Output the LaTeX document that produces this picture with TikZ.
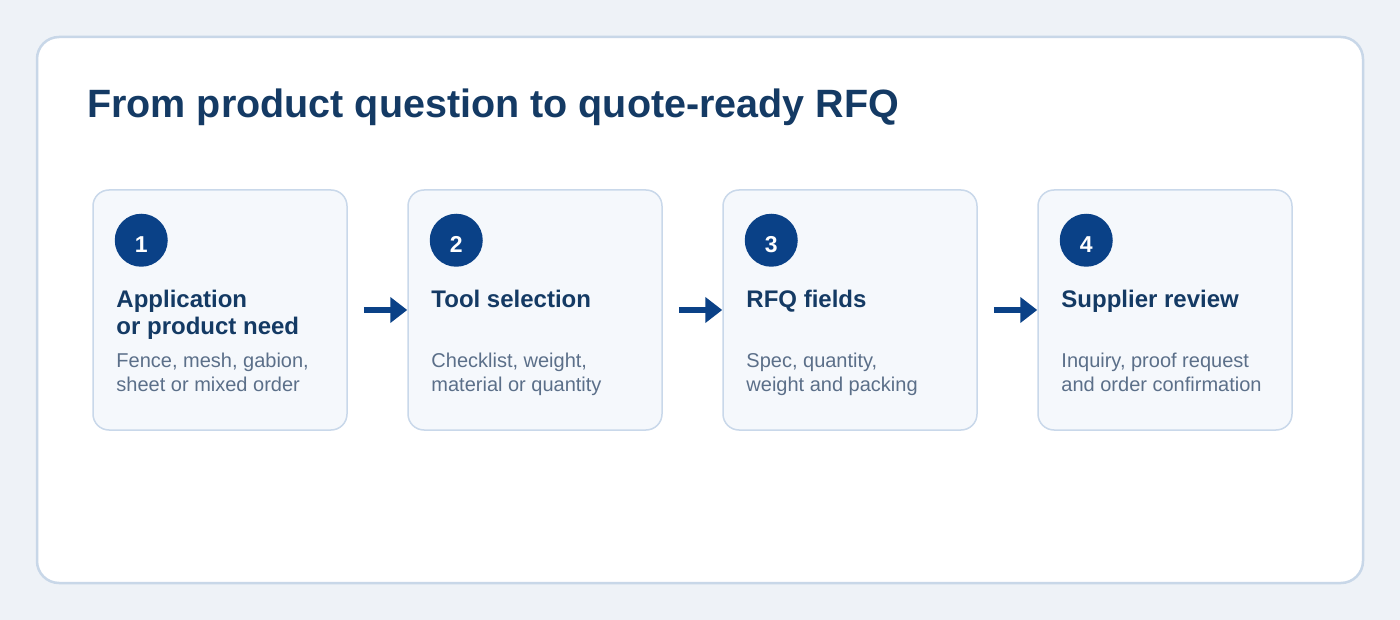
\documentclass[tikz,border=0pt]{standalone}
\usepackage{fontspec}
\setmainfont{Liberation Sans}
\usetikzlibrary{arrows.meta,positioning}

\definecolor{pagebg}{HTML}{EEF2F7}
\definecolor{panelline}{HTML}{C8D7E8}
\definecolor{cardfill}{HTML}{F5F8FC}
\definecolor{cardline}{HTML}{C9D8EA}
\definecolor{navy}{HTML}{0A4187}
\definecolor{titleblue}{HTML}{143A64}
\definecolor{notegray}{HTML}{5B6F89}

\tikzset{
	stepcard/.style={draw=cardline, fill=cardfill, line width=1.5pt, rounded corners=16pt,
		minimum width=254pt, minimum height=240pt, inner sep=0pt},
	stepnum/.style={circle, fill=navy, text=white, minimum size=53pt, inner sep=0pt,
		text height=24pt, text depth=0pt, font=\fontsize{23}{24}\selectfont\bfseries},
	steptitle/.style={anchor=base west, inner sep=0pt, align=left, text=titleblue,
		font=\fontsize{24}{27}\selectfont\bfseries},
	stepnote/.style={anchor=base west, inner sep=0pt, align=left, text=notegray,
		font=\fontsize{20}{24}\selectfont},
	flow/.style={navy, line width=5.5pt, -{Triangle[length=17pt,width=25pt]}}
}

\begin{document}
\begin{tikzpicture}[x=1pt, y=-1pt]
		% page and panel
		\fill[pagebg] (0,0) rectangle (1400,620);
		\useasboundingbox (0,0) rectangle (1400,620);
		\draw[panelline, fill=white, line width=2.5pt, rounded corners=22pt] (37,37) rectangle (1363,583);
		
		% heading
		\node[anchor=base west, inner sep=0pt, text=titleblue, font=\fontsize{39.5}{44}\selectfont\bfseries]
		(title) at (87,118) {From product question to quote-ready RFQ};
		
		% the four steps
		\node[stepcard] (c1) at (220,310) {};
		\node[stepcard] (c2) [right=59.5pt of c1] {};
		\node[stepcard] (c3) [right=59.5pt of c2] {};
		\node[stepcard] (c4) [right=59.5pt of c3] {};
		
		% numbers
		\node[stepnum] (n1) at ([xshift=49pt,yshift=-51pt]c1.north west) {1};
		\node[stepnum] (n2) at ([xshift=49pt,yshift=-51pt]c2.north west) {2};
		\node[stepnum] (n3) at ([xshift=49pt,yshift=-51pt]c3.north west) {3};
		\node[stepnum] (n4) at ([xshift=49pt,yshift=-51pt]c4.north west) {4};
		
		% step titles (base = last line)
		\node[steptitle] (t1) at ([xshift=24pt,yshift=-145pt]c1.north west) {Application\\or product need};
		\node[steptitle] (t2) at ([xshift=24pt,yshift=-118pt]c2.north west) {Tool selection};
		\node[steptitle] (t3) at ([xshift=24pt,yshift=-118pt]c3.north west) {RFQ fields};
		\node[steptitle] (t4) at ([xshift=24pt,yshift=-118pt]c4.north west) {Supplier review};
		
		% step notes
		\node[stepnote] (d1) at ([xshift=24pt,yshift=-202pt]c1.north west) {Fence, mesh, gabion,\\sheet or mixed order};
		\node[stepnote] (d2) at ([xshift=24pt,yshift=-202pt]c2.north west) {Checklist, weight,\\material or quantity};
		\node[stepnote] (d3) at ([xshift=24pt,yshift=-202pt]c3.north west) {Spec, quantity,\\weight and packing};
		\node[stepnote] (d4) at ([xshift=24pt,yshift=-202pt]c4.north west) {Inquiry, proof request\\and order confirmation};
		
		% flow arrows
		\draw[flow] ([xshift=16pt]c1.east) -- (c2.west);
		\draw[flow] ([xshift=16pt]c2.east) -- (c3.west);
		\draw[flow] ([xshift=16pt]c3.east) -- (c4.west);
		
\end{tikzpicture}
\end{document}
